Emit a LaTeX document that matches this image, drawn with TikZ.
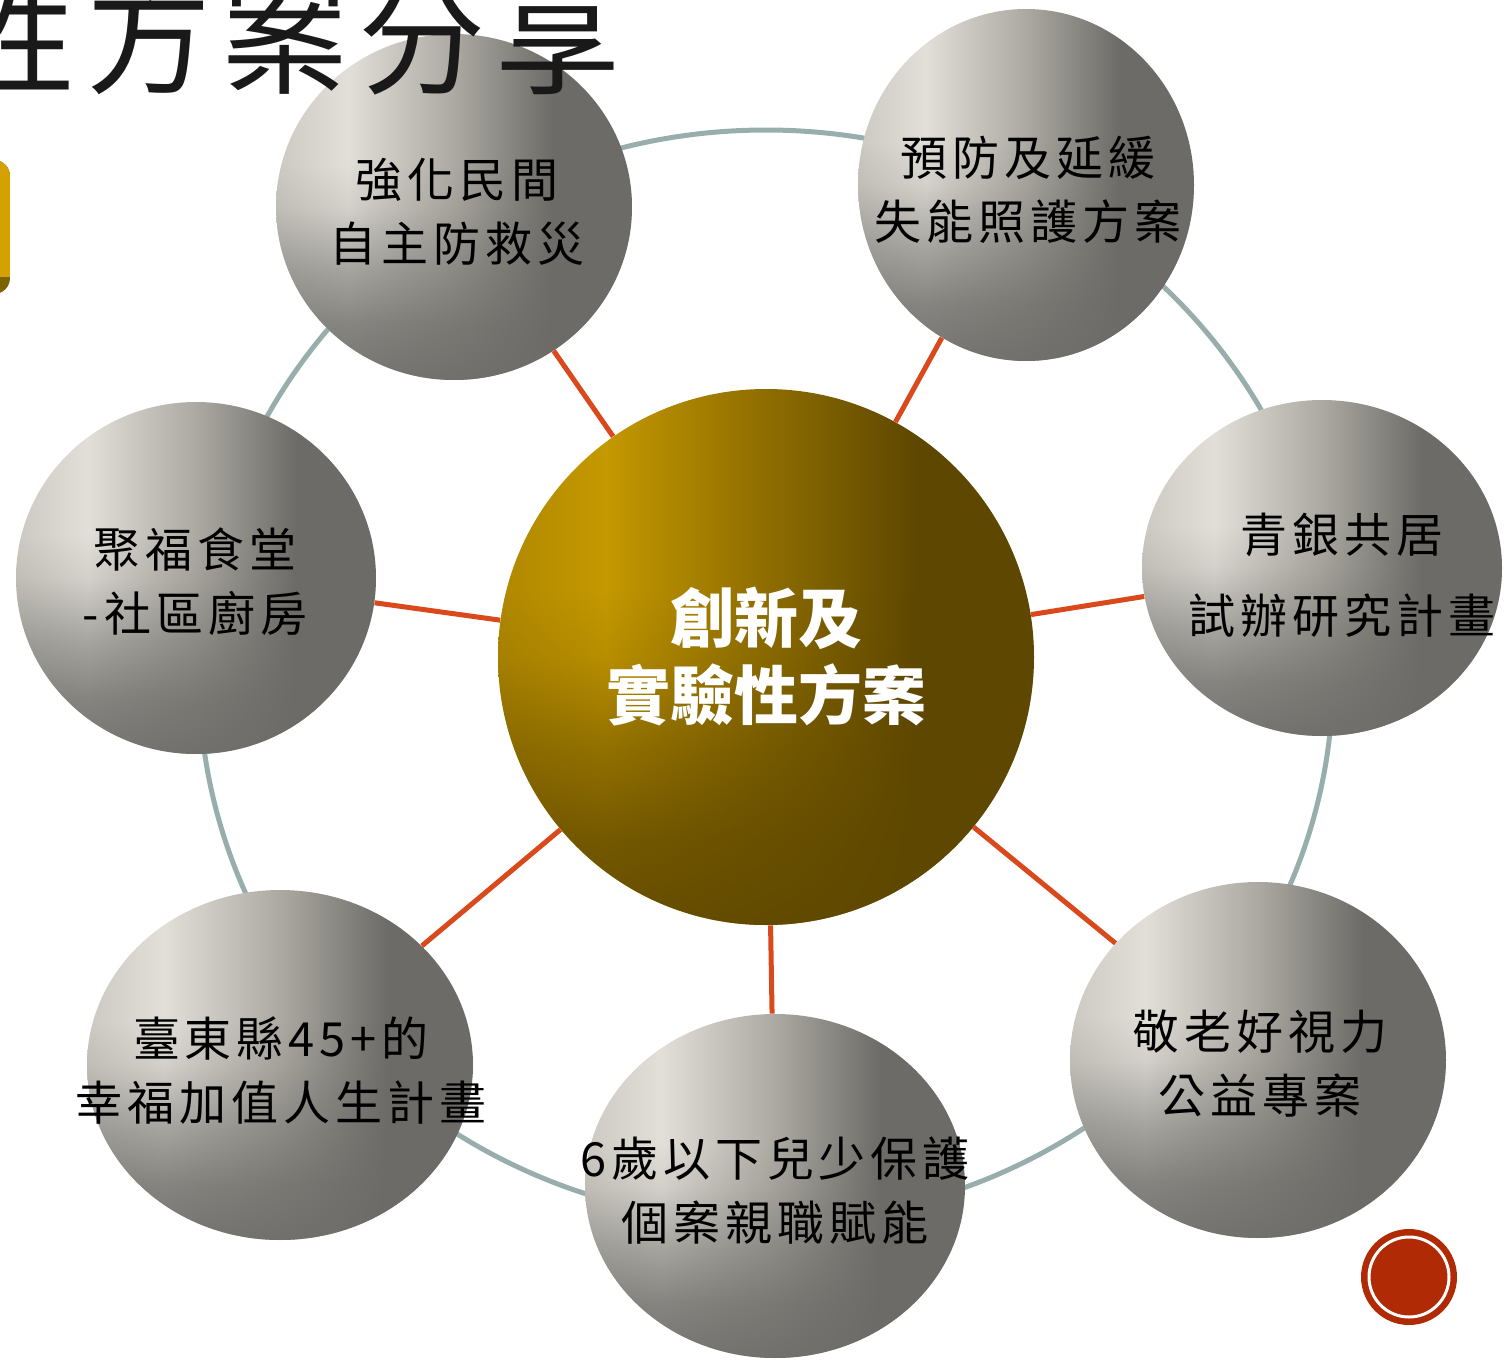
\documentclass[tikz,border=0pt]{standalone}
\usepackage{fontspec}
\setmainfont{Noto Sans CJK TC}
\newfontfamily\satfont{Noto Sans CJK TC}[LetterSpace=10.5]
\newfontfamily\titlefont{Noto Sans CJK TC}[LetterSpace=9]
\usetikzlibrary{shapes.geometric, fadings}
\usepackage{xcolor}

\definecolor{satedge}{HTML}{CCC9C2}
\definecolor{satlight}{HTML}{E2DFD9}
\definecolor{satmid}{HTML}{ACA9A2}
\definecolor{satdark}{HTML}{6C6B67}
\definecolor{hubedge}{HTML}{B08800}
\definecolor{hublight}{HTML}{C49800}
\definecolor{hubmid}{HTML}{8E6D00}
\definecolor{hubdark}{HTML}{5E4700}
\definecolor{ringcol}{HTML}{97AEAD}
\definecolor{spokecol}{HTML}{D9491C}
\definecolor{btnred}{HTML}{B02A05}
\definecolor{tabgold}{HTML}{D4A100}
\definecolor{tabdark}{HTML}{7D6200}

% the path covers 25bp--75bp of a shading
\pgfdeclarehorizontalshading{satx}{100bp}{color(0bp)=(satedge); color(25bp)=(satedge); color(35bp)=(satlight); color(50bp)=(satmid); color(64bp)=(satdark); color(100bp)=(satdark)}
\pgfdeclarehorizontalshading{hubx}{100bp}{color(0bp)=(hubedge); color(25bp)=(hubedge); color(35bp)=(hublight); color(50bp)=(hubmid); color(64bp)=(hubdark); color(100bp)=(hubdark)}
\pgfdeclareverticalshading{fadeshade}{100bp}{color(0bp)=(white!92!black); color(25bp)=(white!92!black); color(33bp)=(white!78!black); color(41bp)=(white!50!black); color(50bp)=(white!12!black); color(56bp)=(black); color(100bp)=(black)}
\tikzfading[name=downfade, shading=fadeshade]

\begin{document}
\begin{tikzpicture}[x=0.5pt,y=-0.5pt,
    sat/.style={ellipse, shade, shading=satx, inner sep=0pt,
        path picture={\fill[satdark, path fading=downfade] (path picture bounding box.south west) rectangle (path picture bounding box.north east);}},
    sattext/.style={align=center, inner sep=0pt,
        font=\satfont\fontsize{23.5pt}{32pt}\selectfont},
    hub/.style={circle, shade, shading=hubx, minimum size=268pt, inner sep=0pt,
        path picture={\fill[hubdark, path fading=downfade] (path picture bounding box.south west) rectangle (path picture bounding box.north east);},
        align=center, text=white, font=\bfseries\fontsize{32pt}{38.5pt}\selectfont},
    spoke/.style={draw=spokecol, line width=2.5pt},
    ring/.style={draw=ringcol, line width=2.5pt}]

    \useasboundingbox (0,0) rectangle (1506,1361);
    \clip (0,0) rectangle (1506,1361);

    % slide leftovers
    \begin{scope}
        \clip[rounded corners=8pt] (-60,160) rectangle (10,294);
        \fill[tabdark] (-60,160) rectangle (10,294);
        \fill[tabgold] (-60,160) rectangle (10,277);
    \end{scope}

    \draw[ring] (766,676) ellipse [x radius=283.5pt, y radius=273pt];

    \node[hub] (hub) at (766,657) {創新及\\實驗性方案};

    \node[sat, minimum width=178pt, minimum height=173pt] (rescue) at (454,207) {};
    \node[sat, minimum width=168pt, minimum height=176pt] (care) at (1026,185) {};
    \node[sat, minimum width=180pt, minimum height=168pt] (cohab) at (1322,568) {};
    \node[sat, minimum width=188pt, minimum height=178pt] (sight) at (1258,1060) {};
    \node[sat, minimum width=190pt, minimum height=172pt] (kids) at (775,1186) {};
    \node[sat, minimum width=193pt, minimum height=175pt] (life) at (280,1065) {};
    \node[sat, minimum width=180pt, minimum height=176pt] (food) at (196,578) {};

    \node[sattext] (rescue text) at (457,212) {強化民間\\自主防救災};
    \node[sattext] (care text) at (1028,190) {預防及延緩\\失能照護方案};
    \node[sattext, font=\satfont\fontsize{23.5pt}{40.5pt}\selectfont] (cohab text) at (1342,575) {青銀共居\\試辦研究計畫};
    \node[sattext] (sight text) at (1260,1064) {敬老好視力\\公益專案};
    \node[sattext] (kids text) at (775,1191) {6歲以下兒少保護\\個案親職賦能};
    \node[sattext] (life text) at (281,1070) {臺東縣45+的\\幸福加值人生計畫};
    \node[sattext] (food text) at (195,582) {聚福食堂\\-社區廚房};

    \foreach \s in {rescue,care,cohab,sight,kids,life,food}
        \draw[spoke] (hub) -- (\s);

    \node[anchor=base west, inner sep=0pt, text=black!90,
        font=\titlefont\fontsize{62.5pt}{62.5pt}\selectfont] (title) at (-50,84) {性方案分享};

    % page button
    \fill[btnred] (1409,1277) circle [radius=24pt];
    \draw[white, line width=1.5pt] (1409,1277) circle [radius=20pt];

\end{tikzpicture}
\end{document}
